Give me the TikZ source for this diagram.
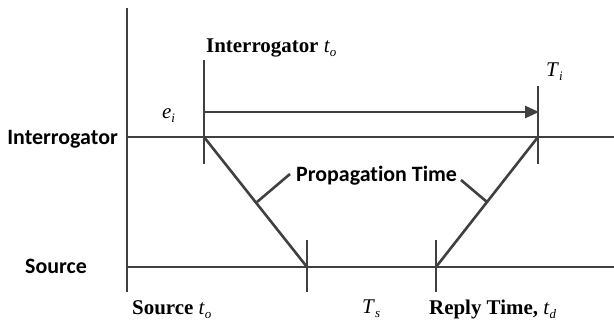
\documentclass[tikz,border=0pt]{standalone}
\usepackage{fontspec}
\setmainfont{Liberation Serif}
\newfontfamily\calib[Ligatures=NoCommon]{Carlito}
\usetikzlibrary{arrows.meta}
\newcommand{\sbt}[2]{\textit{#1}\raisebox{-0.5ex}{\fontsize{13}{13}\selectfont\textit{#2}}}
\definecolor{gline}{RGB}{64,64,64}
\begin{document}
\begin{tikzpicture}[x=1bp,y=-1bp,
  ln/.style={draw=gline, line width=2.6bp},
  serif/.style={font=\fontsize{21}{24}\selectfont, inner sep=0pt, text=black},
  sans/.style={font=\calib\bfseries\fontsize{22}{25}\selectfont, inner sep=0pt, text=black}]
\useasboundingbox (0,0) rectangle (614,327);
% coordinates
\coordinate (axT) at (127,8);
\coordinate (axB) at (127,292);
\coordinate (iL) at (127,137);
\coordinate (iR) at (614,137);
\coordinate (sL) at (127,267);
\coordinate (sR) at (614,267);
\coordinate (t0T) at (204,60);
\coordinate (t0B) at (204,164);
\coordinate (t0) at (204,137);
\coordinate (aS) at (204,112);
\coordinate (aE) at (538,112);
\coordinate (tiT) at (538,86);
\coordinate (tiB) at (538,164);
\coordinate (ti) at (538,137);
\coordinate (sTT) at (307,240);
\coordinate (sTB) at (307,292);
\coordinate (sT) at (307,267);
\coordinate (rTT) at (436,240);
\coordinate (rTB) at (436,292);
\coordinate (rT) at (436,267);
\coordinate (l1a) at (257,202);
\coordinate (l1b) at (290,174);
\coordinate (l2a) at (487,202);
\coordinate (l2b) at (461,180);
% lines
\draw[ln] (axT) -- (axB);
\draw[ln] (iL) -- (iR);
\draw[ln] (sL) -- (sR);
\draw[ln] (t0T) -- (t0B);
\draw[ln] (tiT) -- (tiB);
\draw[ln] (sTT) -- (sTB);
\draw[ln] (rTT) -- (rTB);
\draw[ln, -{Triangle[length=14bp,width=12bp]}, shorten >=-1bp] (aS) -- (aE);
\draw[ln] (t0) -- (sT);
\draw[ln] (rT) -- (ti);
\draw[ln] (l1a) -- (l1b);
\draw[ln] (l2a) -- (l2b);
% labels
\node[sans, anchor=base east] (lint) at (118,144) {Interrogator};
\node[sans, anchor=base west] (lsrc) at (25,273) {Source};
\node[sans, anchor=base west] (lprop) at (296,181) {Propagation Time};
\node[serif, anchor=base west] (lit0) at (206,52) {\textbf{Interrogator} \sbt{t}{o}};
\node[serif, anchor=base west] (lei) at (162,118) {\sbt{e}{i}};
\node[serif, anchor=base west] (lti) at (546,76) {\sbt{T}{i}};
\node[serif, anchor=base west] (lst0) at (132,314) {\textbf{Source} \sbt{t}{o}};
\node[serif, anchor=base west] (lts) at (362,313) {\sbt{T}{s}};
\node[serif, anchor=base west] (lrt) at (429,314) {\textbf{Reply Time,} \sbt{t}{d}};
\end{tikzpicture}
\end{document}
